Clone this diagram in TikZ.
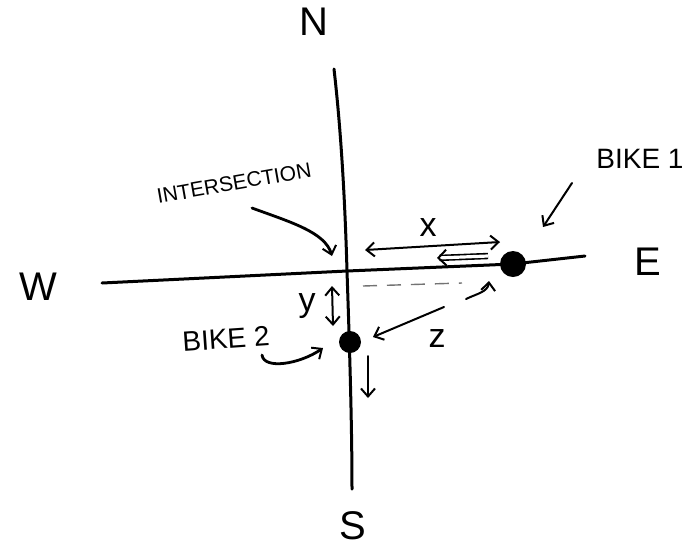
\documentclass[tikz,border=0pt]{standalone}
\usepackage{fontspec}
\setmainfont{Liberation Sans}
\usetikzlibrary{arrows.meta}
\begin{document}
\begin{tikzpicture}[x=0.5pt,y=-0.5pt,
  road/.style={line width=1.5pt, line cap=round},
  barb/.tip={Straight Barb[length=4pt,width=7pt,line width=1pt]},
  arr/.style={line width=1pt, line cap=round, -barb},
  darr/.style={line width=1pt, line cap=round, barb-barb},
  compass/.style={font=\fontsize{20}{20}\selectfont, inner sep=1pt},
  lbl/.style={font=\fontsize{14}{14}\selectfont, inner sep=0pt},
  var/.style={font=\fontsize{17}{17}\selectfont, inner sep=0pt},
  bike/.style={circle, fill=black, inner sep=0pt}]
\useasboundingbox (0,0) rectangle (692,548);

% compass letters
\node[compass] (N) at (314,22) {N};
\node[compass] (W) at (38,287) {W};
\node[compass] (E) at (648,262) {E};
\node[compass] (S) at (353,526) {S};

% roads
\coordinate (ntop) at (334,69);
\coordinate (sbot) at (352,489);
\coordinate (wend) at (102,283);
\coordinate (eend) at (585,256);
\coordinate (isec) at (347,271);
\node[bike, minimum size=13pt] (b1) at (513,264) {};
\node[bike, minimum size=11pt] (b2) at (350,342) {};
\draw[road] (ntop) .. controls (341,130) and (345,200) .. (isec)
  .. controls (349,330) and (352,420) .. (sbot);
\draw[road] (wend) -- (isec) -- (b1.center) -- (eend);

% intersection label
\node[lbl, font=\fontsize{10.5}{10.5}\selectfont, rotate=10] (lint) at (234,183) {INTERSECTION};
\coordinate (ia) at (252,208);
\coordinate (ib) at (332,256);
\draw[arr, line width=1.4pt] (ia) .. controls (290,222) and (325,232) .. (ib);

% bike 1 label
\node[lbl] (lb1) at (640,159) {BIKE 1};
\coordinate (b1a) at (572,183);
\coordinate (b1b) at (543,227);
\draw[arr] (b1a) -- (b1b);

% bike 2 label
\node[lbl, rotate=4] (lb2) at (226,339) {BIKE 2};
\coordinate (b2a) at (262,355);
\coordinate (b2b) at (323,348);
\draw[arr, line width=1.4pt] (b2a) .. controls (264,370) and (300,364) .. (b2b);

% x distance
\coordinate (xa) at (365,250);
\coordinate (xb) at (500,242);
\draw[darr] (xa) -- (xb);
\node[var] (lx) at (428,228) {x};
\coordinate (va) at (488,256);
\coordinate (vb) at (437,258);
\draw[line width=0.8pt, double, double distance=1.6pt, -{Straight Barb[length=4pt,width=8pt,line width=1pt]}] (va) -- (vb);

% dashed line
\coordinate (da) at (363,286);
\coordinate (db) at (462,283);
\draw[line width=0.7pt, black!55, dash pattern=on 7pt off 5pt] (da) -- (db);

% z distance
\coordinate (za) at (444,307);
\coordinate (zb) at (373,337);
\draw[arr] (za) -- (zb);
\coordinate (ha) at (466,299);
\coordinate (hb) at (489,281);
\draw[arr] (ha) .. controls (476,294) and (488,292) .. (hb);
\node[var] (lz) at (437,339) {z};

% y distance
\coordinate (ya) at (332,286);
\coordinate (yb) at (333,326);
\draw[darr] (ya) -- (yb);
\node[var] (ly) at (307,306) {y};

% motion of bike 2
\coordinate (ma) at (368,356);
\coordinate (mb) at (368,398);
\draw[arr] (ma) -- (mb);
\end{tikzpicture}
\end{document}
